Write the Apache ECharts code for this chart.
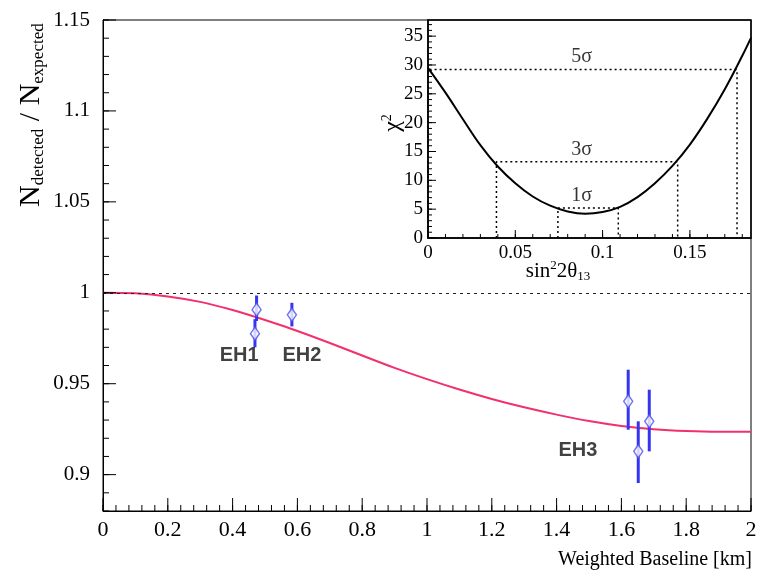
<!DOCTYPE html>
<html><head><meta charset="utf-8">
<script src="https://cdn.jsdelivr.net/npm/echarts@6/dist/echarts.min.js"></script>
<style>html,body{margin:0;padding:0;background:#fff}#c{width:760px;height:580px}</style>
</head><body><div id="c"></div>
<script>
// ---- main panel data ----
const baselineKm = [0,0.1,0.2,0.3,0.4,0.5,0.6,0.7,0.8,0.9,1.0,1.1,1.2,1.3,1.4,1.5,1.6,1.7,1.8,1.9,2.0];
const ratioCurve = [1.0000,0.9997,0.9980,0.9950,0.9905,0.9850,0.9790,0.9724,0.9655,0.9587,0.9525,0.9468,0.9416,0.9370,0.9330,0.9295,0.9268,0.9250,0.9240,0.9236,0.9236];
const siteBaseline = [0.474,0.469,0.583,1.621,1.652,1.686];
const siteRatio   = [0.9907,0.9775,0.9879,0.9403,0.9128,0.9293];
const siteErrLow  = [0.9845,0.9700,0.9815,0.9247,0.8954,0.9128];
const siteErrHigh = [0.9985,0.9855,0.9945,0.9577,0.9293,0.9467];
const hallNames = ['EH1','EH2','EH3'];
const mainYTickLabels = [0.9,0.95,1,1.05,1.1,1.15];
const unityRatio = 1;

// ---- inset data ----
const sinSq2Theta = [0,0.01,0.02,0.03,0.04,0.05,0.06,0.07,0.08,0.09,0.10,0.11,0.12,0.13,0.14,0.15,0.16,0.17,0.18,0.185];
const chiSquare   = [29.5,25.2,20.6,16.1,12.4,9.5,7.2,5.6,4.6,4.2,4.5,5.4,7.1,9.5,12.5,16.2,20.7,25.8,31.6,34.7];
const sigmaNames = ['1σ','3σ','5σ'];
const sigmaChi2  = [5.2,13.2,29.2];
const sigmaLow   = [0.0744,0.0392,0.0];
const sigmaHigh  = [0.109,0.143,0.177];
const insetXTickLabels = [0,0.05,0.1,0.15];
const insetYTickLabels = [0,5,10,15,20,25,30,35];

function steps(a,b,s){const r=[];for(let v=a;v<=b+1e-9;v+=s)r.push(Math.round(v*1e6)/1e6);return r;}

const SERIF = 'Liberation Serif';
const BLUE = '#3434f2';
const RED = '#f2306c';

// inside tick marks drawn through the axis scales
function xTickSeries(xi, yi, yBase, major, minor, lMaj, lMin){
  const data = minor.map(v=>[v,yBase,lMin]).concat(major.map(v=>[v,yBase,lMaj]));
  return {type:'custom', xAxisIndex:xi, yAxisIndex:yi, silent:true, z:6, clip:false, data,
    renderItem:(params, api)=>{
      const p = api.coord([api.value(0), api.value(1)]);
      return {type:'line', shape:{x1:p[0], y1:p[1], x2:p[0], y2:p[1]-api.value(2)}, style:{stroke:'#000', lineWidth:1}};
    }};
}
function yTickSeries(xi, yi, xBase, major, minor, lMaj, lMin){
  const data = minor.map(v=>[xBase,v,lMin]).concat(major.map(v=>[xBase,v,lMaj]));
  return {type:'custom', xAxisIndex:xi, yAxisIndex:yi, silent:true, z:6, clip:false, data,
    renderItem:(params, api)=>{
      const p = api.coord([api.value(0), api.value(1)]);
      return {type:'line', shape:{x1:p[0], y1:p[1], x2:p[0]+api.value(2), y2:p[1]}, style:{stroke:'#000', lineWidth:1}};
    }};
}

const chart = echarts.init(document.getElementById('c'));

const sigmaSeries = sigmaChi2.map((lv,i)=>({
  type:'line', xAxisIndex:1, yAxisIndex:1, symbol:'none', silent:true,
  data:[[sigmaLow[i],0],[sigmaLow[i],lv],[sigmaHigh[i],lv],[sigmaHigh[i],0]],
  lineStyle:{color:'#000', width:1.5, type:[2,3]}, z:2
}));

const option = {
  animation:false,
  grid:[
    {left:103, top:20, width:648, height:491, show:true, borderColor:'#000'},
    {left:428, top:20, width:323, height:218, show:true, borderColor:'#000', borderWidth:1.5}
  ],
  xAxis:[
    {gridIndex:0, type:'value', min:0, max:2, interval:0.2,
     axisLine:{show:true, onZero:false, lineStyle:{color:'#000', width:1}},
     axisTick:{show:false},
     axisLabel:{fontFamily:SERIF, fontSize:22, color:'#000', margin:8},
     splitLine:{show:false}},
    {gridIndex:1, type:'value', min:0, max:0.185,
     axisLine:{show:true, onZero:false, lineStyle:{color:'#000', width:1.5}},
     axisTick:{show:false},
     axisLabel:{fontFamily:SERIF, fontSize:19, color:'#000', margin:6, customValues:insetXTickLabels, formatter:v=>String(v)},
     splitLine:{show:false}}
  ],
  yAxis:[
    {gridIndex:0, type:'value', min:0.88, max:1.15,
     axisLine:{show:true, onZero:false, lineStyle:{color:'#000', width:1}},
     axisTick:{show:false},
     axisLabel:{fontFamily:SERIF, fontSize:21, color:'#000', margin:13, customValues:mainYTickLabels, formatter:v=>String(v)},
     splitLine:{show:false}},
    {gridIndex:1, type:'value', min:0, max:37.8,
     axisLine:{show:true, onZero:false, lineStyle:{color:'#000', width:1.5}},
     axisTick:{show:false},
     axisLabel:{fontFamily:SERIF, fontSize:19, color:'#000', margin:5, customValues:insetYTickLabels, formatter:v=>String(v)},
     splitLine:{show:false}}
  ],
  series:[
    {type:'line', xAxisIndex:0, yAxisIndex:0, smooth:0.3, symbol:'none', silent:true,
     data:baselineKm.map((x,i)=>[x,ratioCurve[i]]),
     lineStyle:{color:RED, width:2}, z:2,
     markLine:{silent:true, symbol:'none', label:{show:false},
       lineStyle:{color:'#222', width:1.2, type:[3,4]},
       data:[{yAxis:unityRatio}]}},
    {type:'custom', xAxisIndex:0, yAxisIndex:0, silent:true, z:3,
     data:siteBaseline.map((x,i)=>[x,siteErrLow[i],siteErrHigh[i]]),
     encode:{x:0, y:[1,2]},
     renderItem:(params,api)=>{
       const a=api.coord([api.value(0),api.value(1)]);
       const b=api.coord([api.value(0),api.value(2)]);
       return {type:'line', shape:{x1:a[0],y1:a[1],x2:b[0],y2:b[1]}, style:{stroke:BLUE, lineWidth:3}};
     }},
    {type:'scatter', xAxisIndex:0, yAxisIndex:0, silent:true, z:4,
     symbol:'diamond', symbolSize:[9,13],
     data:siteBaseline.map((x,i)=>[x,siteRatio[i]]),
     itemStyle:{color:'#fff', borderColor:'#5050ee', borderWidth:1.5}},
    {type:'scatter', xAxisIndex:0, yAxisIndex:0, silent:true, z:5, symbolSize:1,
     itemStyle:{color:'rgba(0,0,0,0)'},
     data:[[0.42,0.9654,hallNames[0]],[0.614,0.9654,hallNames[1]],[1.466,0.9132,hallNames[2]]],
     label:{show:true, position:'inside', formatter:p=>p.value[2], color:'#111',
       fontFamily:'Liberation Sans', fontWeight:'bold', fontSize:20}},
    {type:'line', xAxisIndex:1, yAxisIndex:1, smooth:0.4, symbol:'none', silent:true, z:3,
     data:sinSq2Theta.map((x,i)=>[x,chiSquare[i]]),
     lineStyle:{color:'#000', width:2}},
    ...sigmaSeries,
    {type:'scatter', xAxisIndex:1, yAxisIndex:1, silent:true, z:5, symbolSize:1,
     itemStyle:{color:'rgba(0,0,0,0)'},
     data:sigmaChi2.map((lv,i)=>[0.088,lv,sigmaNames[i]]),
     label:{show:true, position:'top', distance:2, formatter:p=>p.value[2], color:'#000',
       fontFamily:SERIF, fontSize:20}},
    xTickSeries(0,0, 0.88, steps(0,2,0.2), steps(0,2,0.04), 13, 6),
    yTickSeries(0,0, 0, mainYTickLabels, steps(0.88,1.15,0.01), 13, 6),
    xTickSeries(1,1, 0, insetXTickLabels, steps(0,0.18,0.01), 8, 4),
    yTickSeries(1,1, 0, insetYTickLabels, steps(0,37,1), 8, 4)
  ],
  graphic:[
    {type:'text', x:31, y:207, rotation:Math.PI/2, silent:true,
     style:{text:'{n|N}{s|detected}{n| / N}{s|expected}', align:'left', verticalAlign:'middle', fill:'#000',
       rich:{n:{fontFamily:SERIF, fontSize:30, lineHeight:32, fill:'#000'},
             s:{fontFamily:SERIF, fontSize:17, lineHeight:32, verticalAlign:'bottom', fill:'#000'}}}},
    {type:'text', x:752, y:560, silent:true,
     style:{text:'Weighted Baseline [km]', font:'20px "Liberation Serif"', align:'right', verticalAlign:'middle', fill:'#000'}},
    {type:'text', x:393, y:123, rotation:Math.PI/2, silent:true,
     style:{text:'{n|χ}{p|2}', align:'center', verticalAlign:'middle', fill:'#000',
       rich:{n:{fontFamily:SERIF, fontSize:24, lineHeight:26, fill:'#000'},
             p:{fontFamily:SERIF, fontSize:14, lineHeight:26, verticalAlign:'top', fill:'#000'}}}},
    {type:'text', x:558, y:271, silent:true,
     style:{text:'{n|sin}{p|2}{n|2θ}{s|13}', align:'center', verticalAlign:'middle', fill:'#000',
       rich:{n:{fontFamily:SERIF, fontSize:21, lineHeight:24, fill:'#000'},
             p:{fontFamily:SERIF, fontSize:13, lineHeight:24, verticalAlign:'top', fill:'#000'},
             s:{fontFamily:SERIF, fontSize:13, lineHeight:24, verticalAlign:'bottom', fill:'#000'}}}}
  ]
};
chart.setOption(option);
</script></body></html>
